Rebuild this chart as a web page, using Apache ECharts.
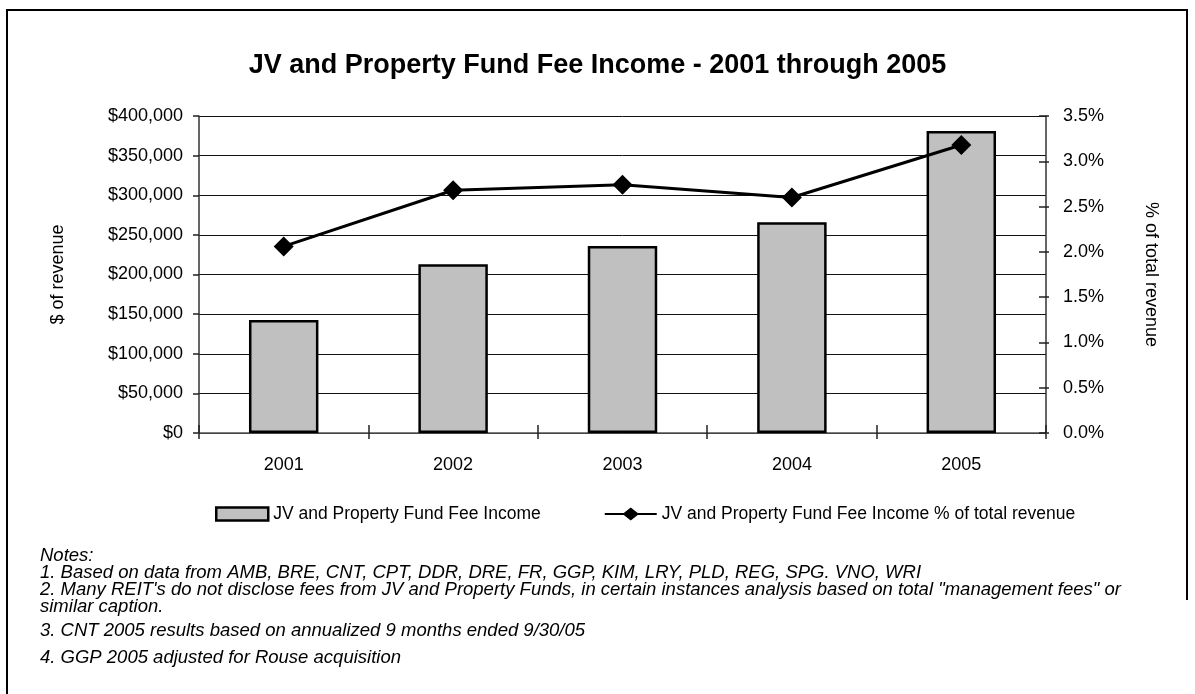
<!DOCTYPE html>
<html>
<head>
<meta charset="utf-8">
<script src="https://cdn.jsdelivr.net/npm/echarts@6/dist/echarts.min.js"></script>
<style>
html,body{margin:0;padding:0;background:#fff;}
#chart{width:1195px;height:694px;}
</style>
</head>
<body>
<div id="chart"></div>
<script>
const categories = ['2001', '2002', '2003', '2004', '2005'];
const feeIncome = [142500, 213000, 236000, 266000, 381000];
const pctOfRevenue = [2.06, 2.68, 2.74, 2.60, 3.18];
const titleText = 'JV and Property Fund Fee Income - 2001 through 2005';
const barName = 'JV and Property Fund Fee Income';
const lineName = 'JV and Property Fund Fee Income % of total revenue';
const leftAxisName = '$ of revenue';
const rightAxisName = '% of total revenue';
const notes = [
  'Notes:',
  '1. Based on data from AMB, BRE, CNT, CPT, DDR, DRE, FR, GGP, KIM, LRY, PLD, REG, SPG. VNO, WRI',
  '2. Many REIT\'s do not disclose fees from JV and Property Funds, in certain instances analysis based on total "management fees" or',
  'similar caption.',
  '3. CNT 2005 results based on annualized 9 months ended 9/30/05',
  '4. GGP 2005 adjusted for Rouse acquisition'
];

const FONT = '"Liberation Sans", Arial, sans-serif';

const chart = echarts.init(document.getElementById('chart'), null, {renderer: 'canvas'});

const noteY = [555, 572, 589, 606, 630, 657];
const noteGraphics = notes.map((t, i) => ({
  type: 'text',
  left: 40,
  top: noteY[i] - 9,
  style: {text: t, fill: '#000', font: 'italic 18.5px ' + FONT}
}));

const option = {
  animation: false,
  backgroundColor: '#fff',
  title: {
    text: titleText,
    left: 'center',
    top: 47,
    textStyle: {fontFamily: FONT, fontWeight: 'bold', fontSize: 27, color: '#000'}
  },
  legend: {
    left: 210,
    top: 500,
    width: 1000,
    itemWidth: 52,
    itemHeight: 13,
    itemGap: 64,
    textStyle: {fontFamily: FONT, fontSize: 17.5, color: '#000'},
    data: [
      {name: barName, icon: 'rect', itemStyle: {borderWidth: 2.5}},
      {name: lineName, icon: 'path://M0,5.5 H19 L26,0 L33,5.5 H52 V7.5 H33 L26,13 L19,7.5 H0 Z',
        itemStyle: {color: '#000', borderWidth: 0}}
    ]
  },
  grid: {left: 199, right: 149, top: 116, bottom: 261},
  xAxis: [
    {
      type: 'category',
      data: categories,
      position: 'bottom',
      axisLine: {lineStyle: {color: '#555', width: 1.5}},
      axisTick: {show: true, length: 6, lineStyle: {color: '#222', width: 1.5}},
      axisLabel: {color: '#000', fontFamily: FONT, fontSize: 18, margin: 23}
    },
    {
      type: 'category',
      data: categories,
      position: 'bottom',
      axisLine: {show: false},
      axisTick: {show: true, inside: true, length: 8, lineStyle: {color: '#222', width: 1.5}},
      axisLabel: {show: false}
    }
  ],
  yAxis: [
    {
      type: 'value',
      min: 0, max: 400000, interval: 50000,
      position: 'left',
      name: leftAxisName,
      nameLocation: 'middle',
      nameRotate: 90,
      nameGap: 132,
      nameTextStyle: {fontFamily: FONT, fontSize: 18, color: '#000'},
      axisLine: {show: true, lineStyle: {color: '#333', width: 1.5}},
      axisTick: {show: true, length: 6, lineStyle: {color: '#222', width: 1.5}},
      axisLabel: {color: '#000', fontFamily: FONT, fontSize: 18, margin: 16,
        formatter: v => '$' + v.toLocaleString('en-US')},
      splitLine: {show: true, lineStyle: {color: '#111', width: 1}}
    },
    {
      type: 'value',
      min: 0, max: 3.5, interval: 0.5,
      position: 'right',
      name: rightAxisName,
      nameLocation: 'middle',
      nameRotate: -90,
      nameGap: 96,
      nameTextStyle: {fontFamily: FONT, fontSize: 18, color: '#000'},
      axisLine: {show: true, lineStyle: {color: '#333', width: 1.5}},
      axisTick: {show: true, length: 3, lineStyle: {color: '#222', width: 1.5}},
      axisLabel: {color: '#000', fontFamily: FONT, fontSize: 18, margin: 17,
        formatter: v => v.toFixed(1) + '%'},
      splitLine: {show: false}
    },
    {
      type: 'value',
      min: 0, max: 3.5, interval: 0.5,
      position: 'right',
      axisLine: {show: false},
      axisTick: {show: true, inside: true, length: 7, lineStyle: {color: '#222', width: 1.5}},
      axisLabel: {show: false},
      splitLine: {show: false}
    }
  ],
  series: [
    {
      name: barName,
      type: 'bar',
      data: feeIncome,
      xAxisIndex: 0,
      yAxisIndex: 0,
      barCategoryGap: '59%',
      itemStyle: {color: '#c0c0c0', borderColor: '#000', borderWidth: 2.5}
    },
    {
      name: lineName,
      type: 'line',
      data: pctOfRevenue,
      xAxisIndex: 0,
      yAxisIndex: 1,
      symbol: 'diamond',
      symbolSize: 20,
      lineStyle: {color: '#000', width: 3},
      itemStyle: {color: '#000'}
    }
  ],
  graphic: [
    {
      type: 'polyline',
      shape: {points: [[7, 694], [7, 10], [1187, 10], [1187, 600]]},
      style: {stroke: '#000', lineWidth: 2, fill: null}
    }
  ].concat(noteGraphics)
};

chart.setOption(option);
</script>
</body>
</html>
